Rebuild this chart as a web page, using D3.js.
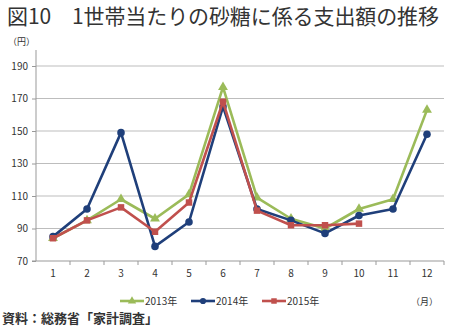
<!DOCTYPE html>
<html><head><meta charset="utf-8">
<script src="https://cdn.jsdelivr.net/npm/d3@7"></script>
<style>body{margin:0;background:#fff}svg{display:block}</style>
</head><body><svg id="c" width="450" height="329"></svg>
<script>
const months = ["1","2","3","4","5","6","7","8","9","10","11","12"];
const yTicks = [70,90,110,130,150,170,190];
const v2013 = [84,95,108,96,111,177,109,96,90,102,108,163];
const v2014 = [85,102,149,79,94,165,102,95,87,98,102,148];
const v2015 = [84,95,103,88,106,168,101,92,92,93];
const seriesNames = ["2013年","2014年","2015年"];
const colors = ["#9BBB59","#1F3F7A","#C0504D"];
const shapes = [d3.symbolTriangle, d3.symbolCircle, d3.symbolSquare];

const svg = d3.select("#c");
const font = "'Noto Sans CJK JP', 'Noto Sans', sans-serif";
const L = 36, R = 444, T = 50, B = 261;
const x = d3.scaleBand().domain(months).range([L, R]);
const y = d3.scaleLinear().domain([70, 190]).range([B, B - 195]);

svg.append("text").attr("x", 7).attr("y", 24).attr("font-family", font)
  .attr("font-size", 21).attr("fill", "#333")
  .attr("textLength", 432).attr("lengthAdjust", "spacing")
  .text("図10　1世帯当たりの砂糖に係る支出額の推移");
svg.append("text").attr("x", 8).attr("y", 45).attr("font-family", font)
  .attr("font-size", 9).attr("fill", "#333").text("（円）");

// gridlines
svg.append("g").selectAll("line").data(yTicks.slice(1)).join("line")
  .attr("x1", L).attr("x2", R).attr("y1", d => y(d)).attr("y2", d => y(d))
  .attr("stroke", "#bdbdbd").attr("stroke-width", 1);

// y axis
const ya = svg.append("g").attr("transform", `translate(${L},0)`)
  .call(d3.axisLeft(y).tickValues(yTicks).tickSize(4).tickPadding(4));
ya.select(".domain").attr("stroke", "#999").attr("d", `M-4,${y(70)}H0V${T}`);
ya.selectAll(".tick line").attr("stroke", "#999");
ya.selectAll("text").attr("font-family", font).attr("font-size", 10).attr("fill", "#333");

// x axis
const xa = svg.append("g").attr("transform", `translate(0,${B})`)
  .call(d3.axisBottom(x).tickSize(0).tickPadding(9));
xa.select(".domain").attr("stroke", "#999").attr("d", `M${L},0H${R}`);
xa.selectAll("text").attr("font-family", font).attr("font-size", 10).attr("fill", "#333");
xa.append("g").selectAll("line").data(months).join("line")
  .attr("x1", d => x(d) + x.bandwidth()).attr("x2", d => x(d) + x.bandwidth())
  .attr("y1", 0).attr("y2", 4).attr("stroke", "#999");

const data = [v2013, v2014, v2015];
const line = d3.line().x((d, i) => x(months[i]) + x.bandwidth() / 2).y(d => y(d));
data.forEach((vals, s) => {
  svg.append("path").datum(vals).attr("d", line).attr("fill", "none")
    .attr("stroke", colors[s]).attr("stroke-width", 2.6).attr("stroke-linejoin", "round");
  const sz = s === 1 ? 45 : 42;
  svg.append("g").selectAll("path").data(vals).join("path")
    .attr("transform", (d, i) => `translate(${x(months[i]) + x.bandwidth() / 2},${y(d)})`)
    .attr("d", d3.symbol().type(shapes[s]).size(sz)).attr("fill", colors[s]);
});

// legend
const lx = [120, 191, 262];
seriesNames.forEach((n, s) => {
  const g = svg.append("g").attr("transform", `translate(${lx[s]},301)`);
  g.append("line").attr("x1", 0).attr("x2", 24).attr("stroke", colors[s]).attr("stroke-width", 2.6);
  g.append("path").attr("transform", "translate(12,0)")
    .attr("d", d3.symbol().type(shapes[s]).size(30)).attr("fill", colors[s]);
  g.append("text").attr("x", 25).attr("y", 4).attr("font-family", font)
    .attr("font-size", 10).attr("fill", "#333").text(n);
});
svg.append("text").attr("x", 411).attr("y", 305).attr("font-family", font)
  .attr("font-size", 9).attr("fill", "#333").text("（月）");
svg.append("text").attr("x", 2).attr("y", 323).attr("font-family", font)
  .attr("font-size", 13).attr("font-weight", "bold").attr("fill", "#333").text("資料：総務省「家計調査」");
</script></body></html>
